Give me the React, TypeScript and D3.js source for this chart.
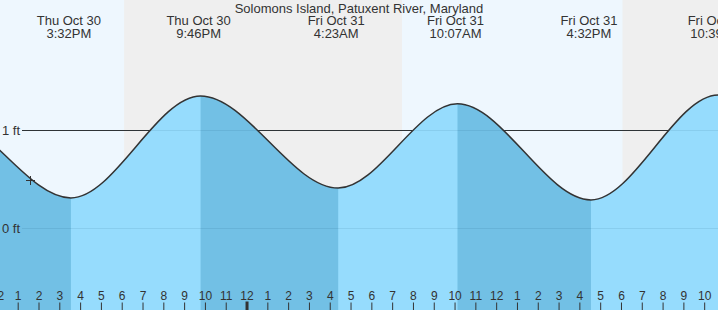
import React from "react";
import * as d3 from "d3";

const W = 718;
const H = 310;

const title = "Solomons Island, Patuxent River, Maryland";

// hours since Thu Oct 30 00:00 (local station time)
const tideTimes = [3.1, 9.3, 15.533, 21.767, 28.383, 34.117, 40.533, 46.65, 52.9, 59.2];
const tideHeights = [0.42, 1.16, 0.31, 1.35, 0.41, 1.27, 0.29, 1.36, 0.36, 1.3];

const eventTimes = [15.533, 21.767, 28.383, 34.117, 40.533, 46.65];
const eventDates = ["Thu Oct 30", "Thu Oct 30", "Fri Oct 31", "Fri Oct 31", "Fri Oct 31", "Fri Oct 31"];
const eventClock = ["3:32PM", "9:46PM", "4:23AM", "10:07AM", "4:32PM", "10:39PM"];

const nightStarts = [18.09, 42.05];
const nightEnds = [31.45, 55.4];

const yTicks = [0, 1];
const yTickLabels = ["0 ft", "1 ft"];

const nowTime = 13.6;
const nowHeight = 0.49;

const viewStart = 12.125;
const viewEnd = 46.64;

const FONT = "'Liberation Sans', Arial, Helvetica, sans-serif";
const TEXT = "#333";

export default function App() {
  const x = d3.scaleLinear().domain([viewStart, viewEnd]).range([0, W]);
  const y = d3.scaleLinear().domain([0, 1]).range([228.3, 130.3]);

  const pts = tideTimes.map((t, i) => [t, tideHeights[i]] as [number, number]);
  const area = d3
    .area<[number, number]>()
    .x((d) => x(d[0]))
    .y0(H)
    .y1((d) => y(d[1]))
    .curve(d3.curveMonotoneX);
  const line = d3
    .line<[number, number]>()
    .x((d) => x(d[0]))
    .y((d) => y(d[1]))
    .curve(d3.curveMonotoneX);
  const areaPath = area(pts) || "";
  const linePath = line(pts) || "";

  const falling: [number, number][] = [];
  for (let i = 0; i < tideTimes.length - 1; i++) {
    if (tideHeights[i] > tideHeights[i + 1]) falling.push([tideTimes[i], tideTimes[i + 1]]);
  }

  const hours = d3.range(Math.ceil(viewStart) - 1, Math.floor(viewEnd) + 2);
  const hourLabel = (h: number) => {
    const m = ((h % 12) + 12) % 12;
    return String(m === 0 ? 12 : m);
  };

  return (
    <svg
      width={W}
      height={H}
      style={{ position: "fixed", left: 0, top: 0, display: "block" }}
      fontFamily={FONT}
    >
      <defs>
        {falling.map((s, i) => (
          <clipPath id={`fall${i}`} key={i}>
            <rect x={x(s[0])} y={0} width={x(s[1]) - x(s[0])} height={H} />
          </clipPath>
        ))}
      </defs>
      {/* day background */}
      <rect x={0} y={0} width={W} height={H} fill="#eef7fe" />
      {/* night bands */}
      {nightStarts.map((s, i) => (
        <rect
          key={i}
          x={x(s)}
          y={0}
          width={x(nightEnds[i]) - x(s)}
          height={H}
          fill="#efefef"
        />
      ))}
      {/* dark reference line */}
      <line x1={22} x2={W} y1={y(1)} y2={y(1)} stroke="#333" strokeWidth={1} shapeRendering="crispEdges" />
      {/* water */}
      <path d={areaPath} fill="#96dcfd" />
      {falling.map((s, i) => (
        <path key={i} d={areaPath} fill="#72c0e5" clipPath={`url(#fall${i})`} />
      ))}
      {/* faint grid over water */}
      {yTicks.map((v, i) => (
        <line
          key={i}
          x1={22}
          x2={W}
          y1={y(v)}
          y2={y(v)}
          stroke="rgba(0,50,90,0.09)"
          strokeWidth={1}
          shapeRendering="crispEdges"
        />
      ))}
      <path d={linePath} fill="none" stroke="#333" strokeWidth={1.5} />
      {/* y labels */}
      {yTicks.map((v, i) => (
        <text key={i} x={2} y={y(v) + 4.5} fontSize={13} fill={TEXT}>
          {yTickLabels[i]}
        </text>
      ))}
      {/* current time marker */}
      <g stroke="#333" strokeWidth={1} shapeRendering="crispEdges">
        <line x1={x(nowTime) - 4.5} x2={x(nowTime) + 4.5} y1={y(nowHeight)} y2={y(nowHeight)} />
        <line x1={x(nowTime)} x2={x(nowTime)} y1={y(nowHeight) - 4.5} y2={y(nowHeight) + 4.5} />
      </g>
      {/* title */}
      <text x={W / 2} y={12.5} fontSize={13} fill={TEXT} textAnchor="middle">
        {title}
      </text>
      {/* event labels */}
      {eventTimes.map((t, i) => (
        <g key={i}>
          <text x={x(t) - 2} y={25} fontSize={13} fill={TEXT} textAnchor="middle">
            {eventDates[i]}
          </text>
          <text x={x(t) - 2} y={38} fontSize={13} fill={TEXT} textAnchor="middle">
            {eventClock[i]}
          </text>
        </g>
      ))}
      {/* hour axis */}
      {hours.map((h) => {
        const px = x(h);
        const midnight = h % 24 === 0;
        return (
          <g key={h}>
            <text x={px} y={299.5} fontSize={12} fill={TEXT} textAnchor="middle">
              {hourLabel(h)}
            </text>
            <line
              x1={px}
              x2={px}
              y1={midnight ? 301.5 : 302.5}
              y2={H}
              stroke="#333"
              strokeWidth={midnight ? 3 : 1}
            />
          </g>
        );
      })}
    </svg>
  );
}
